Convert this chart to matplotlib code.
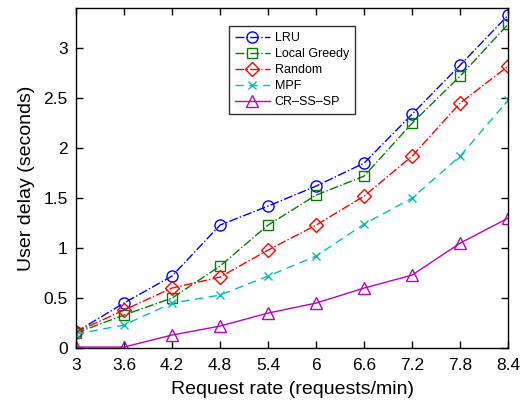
import matplotlib
matplotlib.use('Agg')
import matplotlib.pyplot as plt

rates = [3, 3.6, 4.2, 4.8, 5.4, 6, 6.6, 7.2, 7.8, 8.4]
tick_labels = ['3', '3.6', '4.2', '4.8', '5.4', '6', '6.6', '7.2', '7.8', '8.4']

lru = [0.16, 0.45, 0.72, 1.23, 1.42, 1.62, 1.85, 2.34, 2.83, 3.33]
local_greedy = [0.15, 0.33, 0.50, 0.82, 1.23, 1.53, 1.72, 2.25, 2.72, 3.24]
rand_delay = [0.16, 0.38, 0.60, 0.71, 0.98, 1.23, 1.52, 1.92, 2.45, 2.82]
mpf = [0.14, 0.23, 0.45, 0.53, 0.72, 0.92, 1.24, 1.50, 1.92, 2.48]
cr_ss_sp = [0.01, 0.01, 0.13, 0.22, 0.35, 0.45, 0.60, 0.73, 1.05, 1.30]

plt.rcParams['font.family'] = ['Liberation Sans', 'DejaVu Sans']

fig = plt.figure(figsize=(5.31, 4.09), dpi=100)
ax = fig.add_axes([0.143, 0.149, 0.814, 0.831])

ax.plot(rates, lru, color='b', linestyle='-.', marker='o', mfc='none', ms=8, lw=1, label='LRU')
ax.plot(rates, local_greedy, color='#008000', linestyle='-.', marker='s', mfc='none', ms=7, lw=1, label='Local Greedy')
ax.plot(rates, rand_delay, color='r', linestyle='-.', marker='D', mfc='none', ms=7, lw=1, label='Random')
ax.plot(rates, mpf, color='c', linestyle='--', marker='x', mfc='none', ms=6, lw=1, label='MPF', dashes=(6, 4))
ax.plot(rates, cr_ss_sp, color='m', linestyle='-', marker='^', mfc='none', ms=9, lw=1, label='CR\u2013SS\u2013SP')

ax.set_xlim(3, 8.4)
ax.set_ylim(0, 3.4)
ax.set_xticks(rates)
ax.set_xticklabels(tick_labels)
ax.set_yticks([0, 0.5, 1, 1.5, 2, 2.5, 3])
ax.set_yticklabels(['0', '0.5', '1', '1.5', '2', '2.5', '3'])
ax.tick_params(direction='in', top=True, right=True, labelsize=12.5, length=5, width=1)
ax.tick_params(axis='x', pad=7)
ax.tick_params(axis='y', pad=6)
for s in ax.spines.values():
  s.set_linewidth(1)

ax.set_xlabel('Request rate (requests/min)', fontsize=14, labelpad=6)
ax.set_ylabel('User delay (seconds)', fontsize=14, labelpad=6)

leg = ax.legend(loc='upper left', bbox_to_anchor=(0.34, 0.965), fontsize=9, frameon=True,
                fancybox=False, edgecolor='k', handlelength=2.8, borderpad=0.45,
                labelspacing=0.32, handletextpad=0.4)
leg.get_frame().set_linewidth(1)

fig.savefig('out.png', dpi=100)
